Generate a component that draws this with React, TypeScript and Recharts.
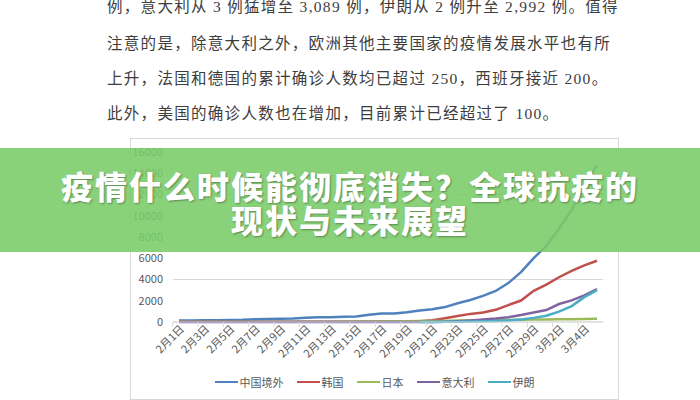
import { LineChart, Line, XAxis, YAxis, CartesianGrid } from 'recharts';

// categories: 2月1日 .. 3月5日
const dates = [
  '2月1日', '2月2日', '2月3日', '2月4日', '2月5日', '2月6日', '2月7日', '2月8日', '2月9日', '2月10日',
  '2月11日', '2月12日', '2月13日', '2月14日', '2月15日', '2月16日', '2月17日', '2月18日', '2月19日', '2月20日',
  '2月21日', '2月22日', '2月23日', '2月24日', '2月25日', '2月26日', '2月27日', '2月28日', '2月29日',
  '3月1日', '3月2日', '3月3日', '3月4日', '3月5日',
];

const outsideChina = [
  132, 146, 153, 159, 191, 216, 270, 288, 307, 319, 395, 441, 447, 505, 526, 683, 794, 804, 924, 1073,
  1200, 1402, 1769, 2069, 2459, 2918, 3664, 4691, 6009, 7169, 8774, 10566, 12668, 14768,
];
const korea = [
  12, 15, 15, 16, 19, 23, 24, 24, 27, 27, 28, 28, 28, 28, 28, 29, 30, 31, 46, 82,
  156, 346, 556, 763, 893, 1146, 1595, 2022, 2931, 3526, 4212, 4812, 5328, 5766,
];
const japan = [
  20, 20, 20, 22, 22, 25, 25, 26, 26, 26, 28, 28, 29, 33, 41, 53, 59, 65, 73, 85,
  93, 105, 132, 144, 157, 164, 186, 210, 230, 243, 256, 268, 284, 317,
];
const italy = [
  2, 2, 2, 2, 2, 2, 3, 3, 3, 3, 3, 3, 3, 3, 3, 3, 3, 3, 3, 3,
  3, 20, 79, 150, 227, 320, 445, 650, 888, 1128, 1694, 2036, 2502, 3089,
];
const iran = [
  null, null, null, null, null, null, null, null, null, null, null, null, null, null, null, null, null, null, null, 2,
  5, 18, 28, 43, 61, 95, 139, 245, 388, 593, 978, 1501, 2336, 2992,
];

const yTicks = [0, 2000, 4000, 6000, 8000, 10000, 12000, 14000, 16000];

const series = [
  { key: 'outside', name: '中国境外', color: '#4F81BD', values: outsideChina },
  { key: 'korea', name: '韩国', color: '#C0504D', values: korea },
  { key: 'japan', name: '日本', color: '#9BBB59', values: japan },
  { key: 'italy', name: '意大利', color: '#8064A2', values: italy },
  { key: 'iran', name: '伊朗', color: '#4BACC6', values: iran },
];

const paragraph = [
  '例，意大利从 3 例猛增至 3,089 例，伊朗从 2 例升至 2,992 例。值得',
  '注意的是，除意大利之外，欧洲其他主要国家的疫情发展水平也有所',
  '上升，法国和德国的累计确诊人数均已超过 250，西班牙接近 200。',
  '此外，美国的确诊人数也在增加，目前累计已经超过了 100。',
];

const titleLines = ['疫情什么时候能彻底消失？全球抗疫的', '现状与未来展望'];

const data = dates.map((date, i) => {
  const row: Record<string, string | number | null> = { date };
  series.forEach((s) => {
    row[s.key] = s.values[i];
  });
  return row;
});

// half of one category step, so the tick mark sits on the category boundary like Excel
const HALF_STEP = 6.33;

const XTick = (props: { x: number; y: number; payload: { value: string } }) => {
  const { x, y, payload } = props;
  return (
    <g>
      <line x1={x - HALF_STEP} x2={x - HALF_STEP} y1={y} y2={y + 5} stroke="#d9d9d9" />
      <g transform={`translate(${x + 3},${y + 5})`}>
        <text x={0} y={0} dy="0.35em" textAnchor="end" transform="rotate(-45)" fontSize={11} fill="#595959">
          {payload.value}
        </text>
      </g>
    </g>
  );
};

export default function App() {
  return (
    <div
      style={{
        position: 'absolute',
        left: 0,
        top: 0,
        width: 700,
        height: 400,
        overflow: 'hidden',
        background: '#ffffff',
        fontFamily: '"Liberation Serif", "Noto Sans CJK SC", serif',
      }}
    >
      {paragraph.map((line, i) => (
        <div
          key={i}
          style={{
            position: 'absolute',
            left: 107,
            top: [-4, 33, 68, 103][i],
            fontSize: 15.5,
            lineHeight: '22px',
            letterSpacing: 1.3,
            color: '#3d3d3d',
            whiteSpace: 'nowrap',
          }}
        >
          {line}
        </div>
      ))}

      <div
        style={{
          position: 'absolute',
          left: 130,
          top: 138,
          width: 487,
          height: 260,
          border: '1px solid #d9d9d9',
        }}
      />

      <div style={{ position: 'absolute', left: 0, top: 0 }}>
        <LineChart
          width={700}
          height={400}
          data={data}
          margin={{ top: 152, right: 97, left: 133, bottom: 38 }}
          style={{ fontFamily: '"Noto Sans CJK SC", sans-serif' }}
        >
          <CartesianGrid vertical={false} stroke="#d9d9d9" />
          <XAxis
            dataKey="date"
            interval={1}
            height={40}
            tickLine={false}
            tickSize={0}
            tickMargin={0}
            axisLine={{ stroke: '#d9d9d9' }}
            padding={{ left: 6, right: 6 }}
            tick={XTick}
          />
          <YAxis
            width={40}
            domain={[0, 16000]}
            ticks={yTicks}
            axisLine={false}
            tickLine={false}
            tickMargin={4}
            tick={{ fontSize: 11, fill: '#595959' }}
          />
          {series.map((s) => (
            <Line
              key={s.key}
              type="linear"
              dataKey={s.key}
              name={s.name}
              stroke={s.color}
              strokeWidth={2.5}
              dot={false}
              isAnimationActive={false}
            />
          ))}
        </LineChart>
      </div>

      <div
        style={{
          position: 'absolute',
          left: 130,
          width: 489,
          top: 374,
          display: 'flex',
          justifyContent: 'center',
          gap: 13,
          fontFamily: '"Noto Sans CJK SC", sans-serif',
          fontSize: 11,
          color: '#595959',
          lineHeight: '16px',
        }}
      >
        {series.map((s) => (
          <div key={s.key} style={{ display: 'flex', alignItems: 'center' }}>
            <div style={{ width: 23, height: 2.5, background: s.color, marginRight: 2 }} />
            <span>{s.name}</span>
          </div>
        ))}
      </div>

      <div
        style={{
          position: 'absolute',
          left: 0,
          top: 148,
          width: 700,
          height: 104,
          background: 'rgba(122, 204, 104, 0.88)',
          boxSizing: 'border-box',
          paddingTop: 20,
          textAlign: 'center',
          fontFamily: '"Noto Sans CJK SC", sans-serif',
          fontWeight: 900,
          fontSize: 32,
          lineHeight: '34px',
          letterSpacing: 2,
          color: '#ffffff',
          textShadow: '1px 1px 2px rgba(0,0,0,0.35)',
        }}
      >
        {titleLines.map((t, i) => (
          <div key={i}>{t}</div>
        ))}
      </div>
    </div>
  );
}
